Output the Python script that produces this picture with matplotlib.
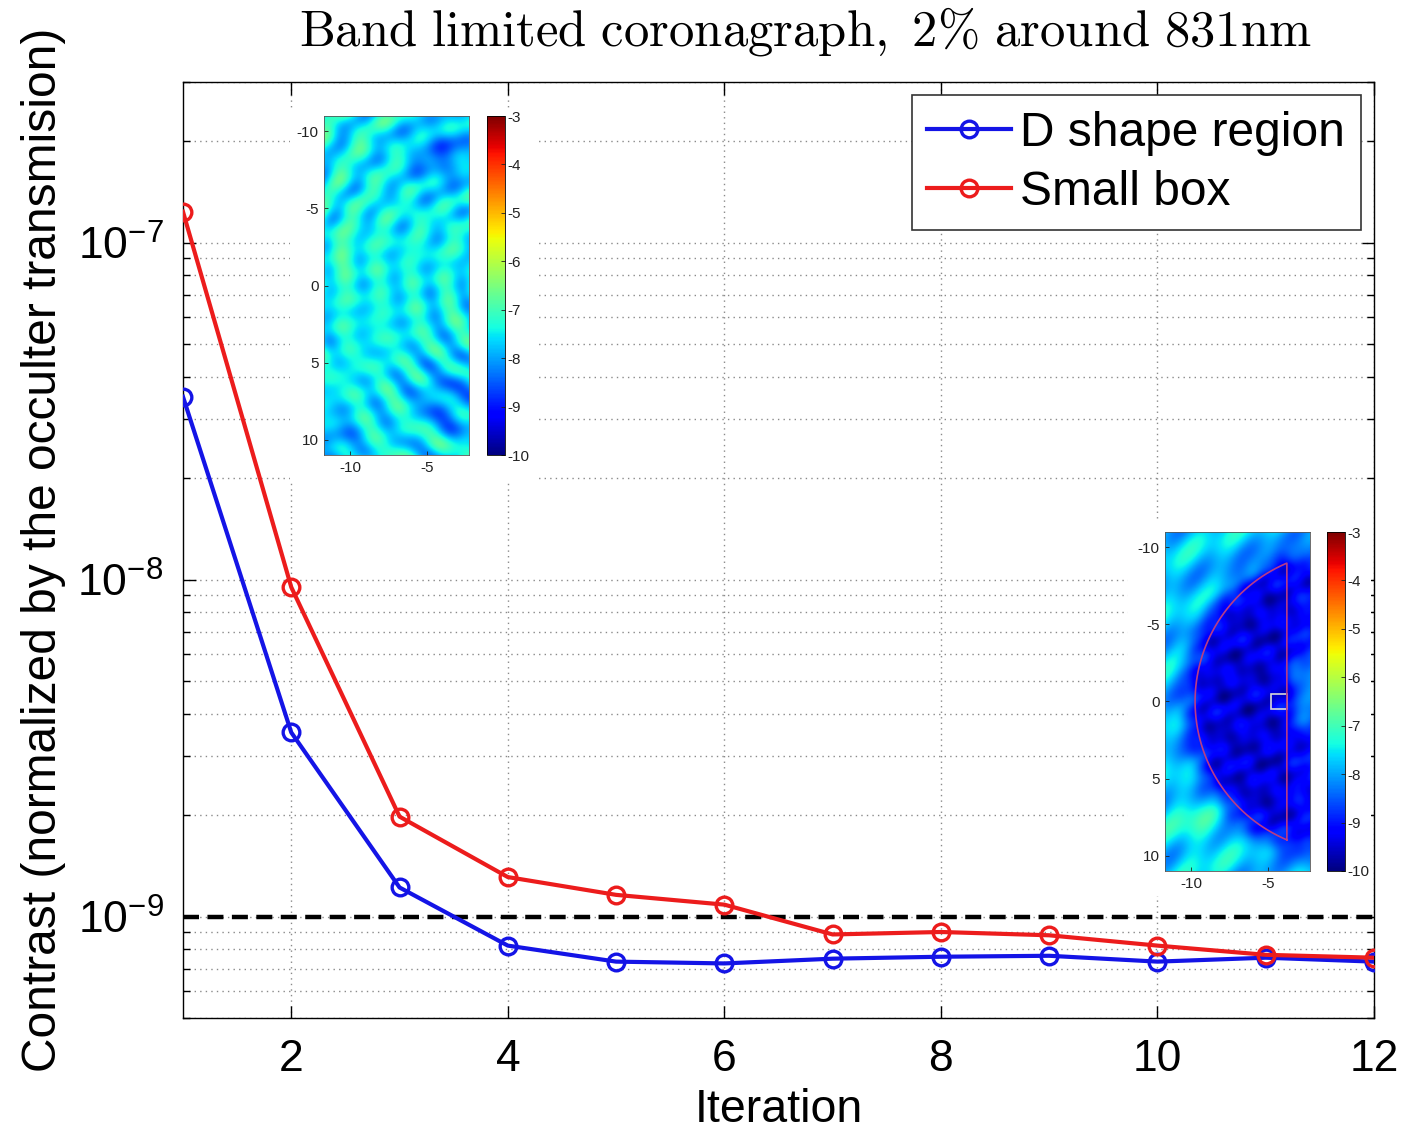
import numpy as np
import matplotlib
matplotlib.use("Agg")
import matplotlib.pyplot as plt
from matplotlib.patches import Rectangle
from matplotlib.ticker import LogLocator, NullFormatter, FixedLocator

plt.rcParams['font.family'] = ['Liberation Sans', 'DejaVu Sans']
plt.rcParams['mathtext.fontset'] = 'custom'
plt.rcParams['mathtext.rm'] = 'Liberation Sans'
plt.rcParams['mathtext.it'] = 'Liberation Sans:italic'
plt.rcParams['mathtext.bf'] = 'Liberation Sans:bold'
plt.rcParams['axes.unicode_minus'] = False

# ---- convergence data ----
iterations = list(range(1, 13))
d_shape_region = [3.49e-8, 3.52e-9, 1.22e-9, 8.2e-10, 7.35e-10, 7.26e-10,
                  7.5e-10, 7.6e-10, 7.65e-10, 7.35e-10, 7.55e-10, 7.35e-10]
small_box = [1.236e-7, 9.5e-9, 1.98e-9, 1.31e-9, 1.16e-9, 1.085e-9,
             8.85e-10, 9.0e-10, 8.8e-10, 8.2e-10, 7.7e-10, 7.55e-10]
target_contrast = 1e-9
x_ticks = [2, 4, 6, 8, 10, 12]
y_decades = [1e-9, 1e-8, 1e-7]
y_decade_labels = [r'$10^{-9}$', r'$10^{-8}$', r'$10^{-7}$']

# ---- focal-plane maps (log10 contrast, lambda/D units) ----
map_xlim = (-11.7, -2.3)
map_ylim = (-11.0, 11.0)
cbar_ticks = [-10, -9, -8, -7, -6, -5, -4, -3]
dark_hole_radius = 9.75
dark_hole_edge = -3.8
box_x = (-4.8, -3.8)
box_y = (-0.5, 0.5)

BLUE = '#1414e6'
RED = '#ec1c1c'

fig = plt.figure(figsize=(14.06, 11.39), dpi=100)
ax = fig.add_axes([183 / 1406, 1 - 1018 / 1139, (1374 - 183) / 1406, (1018 - 82) / 1139])

ax.semilogy(iterations, d_shape_region, '-o', color=BLUE, lw=3.0, ms=12,
            mfc='none', mew=2.4, label='D shape region', zorder=3)
ax.semilogy(iterations, small_box, '-o', color=RED, lw=3.0, ms=12,
            mfc='none', mew=2.4, label='Small box', zorder=4)
ax.axhline(target_contrast, color='k', lw=3.2, ls=(0, (3.6, 1.9)), zorder=2)

ax.set_xlim(1, 12)
ax.set_ylim(5.0e-10, 3.0e-7)
ax.set_xticks(x_ticks)
ax.yaxis.set_major_locator(FixedLocator(y_decades))
ax.set_yticklabels(y_decade_labels)
ax.yaxis.set_minor_locator(LogLocator(base=10, subs=np.arange(2, 10)))
ax.yaxis.set_minor_formatter(NullFormatter())

ax.grid(True, which='major', color='#8a8a8a', ls=(0, (1, 3)), lw=1.0)
ax.grid(True, which='minor', axis='y', color='#8a8a8a', ls=(0, (1, 3)), lw=1.0)
ax.tick_params(which='both', direction='in', top=True, right=True, width=1.0)
ax.tick_params(which='major', length=9, labelsize=32)
ax.tick_params(which='minor', length=5)
ax.tick_params(axis='x', pad=15)
ax.tick_params(axis='y', pad=14)
for s in ax.spines.values():
    s.set_linewidth(1.0)

ax.set_xlabel('Iteration', fontsize=33.5, labelpad=6)
ax.set_ylabel('Contrast (normalized by the occulter transmision)', fontsize=34.5, labelpad=8)

fig.text(805 / 1406, 1 - 45 / 1139,
         r'$\mathrm{Band\ limited\ coronagraph,\ 2\%\ around\ 831nm}$',
         math_fontfamily='cm', fontsize=36.5, ha='center', va='baseline')

leg = ax.legend(loc='upper right', bbox_to_anchor=(1, 1), borderaxespad=0.28,
                fontsize=34.5, fancybox=False, framealpha=1, edgecolor='#333333',
                handlelength=1.75, handletextpad=0.2, borderpad=0.32,
                labelspacing=0.3)
leg.get_frame().set_linewidth(1.2)


def sig(z):
    return 1.0 / (1.0 + np.exp(-z))


xs = np.linspace(map_xlim[0], map_xlim[1], 240)
ys = np.linspace(map_ylim[0], map_ylim[1], 560)
X, Y = np.meshgrid(xs, ys)

# speckle field after the first correction step: curved fringes plus clumps
R1 = np.hypot(X - 0.5, Y - 0.3)
T1 = np.arctan2(Y - 0.3, 0.5 - X)
ring = np.cos(2 * np.pi * R1 / 2.2 + 1.1 * np.sin(2.2 * T1) + 0.6 * np.cos(0.9 * Y))
blob = np.cos(2 * np.pi * (0.33 * X + 0.23 * Y)) * np.cos(2 * np.pi * (0.41 * Y - 0.17 * X))
blob2 = np.cos(2 * np.pi * (0.27 * X - 0.31 * Y) + 1.3) * np.cos(2 * np.pi * 0.19 * (X + Y))
field1 = (-7.45 + 0.55 * ring * (0.75 + 0.25 * np.cos(1.7 * T1 + 0.4 * X))
          + 0.22 * blob + 0.15 * blob2
          - 0.8 * np.exp(-((X + 4.0) ** 2 + (Y + 8.5) ** 2) / 5.0)
          - 0.7 * np.exp(-((X + 3.5) ** 2 + (Y - 7.5) ** 2) / 5.0)
          - 0.6 * np.exp(-((X + 11.0) ** 2 + (Y - 10.0) ** 2) / 3.0)
          + 0.3 * np.exp(-((X + 11.5) ** 2 + (Y + 2.0) ** 2) / 6.0))

# speckle field after convergence, with the dark hole
R2 = np.hypot(X, Y)
sx = sig((-3.5 - X) / 0.3)
right_strip = 0.8 - 0.65 * np.exp(-(Y + 0.8) ** 2 / 5.0)
mask = sig((10.3 - R2) / 0.45) * (sx + (1 - sx) * right_strip)
inside = (-9.45 + 0.22 * np.cos(2 * np.pi * (0.5 * X + 0.3 * Y))
          * np.cos(2 * np.pi * (0.45 * Y - 0.2 * X))
          + 0.18 * np.cos(2 * np.pi * (0.23 * X - 0.37 * Y) + 0.7)
          + 0.15 * np.cos(2 * np.pi * 0.29 * (X + 1.7 * Y)))
outside = (-7.75 + 0.35 * np.cos(2 * np.pi * (Y / 3.5 + 0.12 * X))
           + 0.25 * np.cos(2 * np.pi * (X / 2.5 + Y / 5.0))
           + 0.5 * np.exp(-((X + 9.5) ** 2 + (Y - 8.0) ** 2) / 4.0))
field2 = mask * inside + (1 - mask) * outside

# white backing behind each inset (hides the main grid)
fig.patches.append(Rectangle((290 / 1406, 1 - 480 / 1139), 245 / 1406, 372 / 1139,
                             transform=fig.transFigure, facecolor='white',
                             edgecolor='none', zorder=1))
fig.patches.append(Rectangle((1128 / 1406, 1 - 896 / 1139), 243 / 1406, 374 / 1139,
                             transform=fig.transFigure, facecolor='white',
                             edgecolor='none', zorder=1))


def draw_map(field, left_px, top_px, cbar_left_px):
    h = 339 / 1139
    bottom = 1 - (top_px + 339) / 1139
    iax = fig.add_axes([left_px / 1406, bottom, 145 / 1406, h], zorder=2)
    im = iax.imshow(field, extent=[map_xlim[0], map_xlim[1], map_ylim[0], map_ylim[1]],
                    origin='lower', cmap='jet', vmin=-10, vmax=-3, aspect='auto',
                    interpolation='bilinear')
    iax.set_xlim(*map_xlim)
    iax.set_ylim(map_ylim[1], map_ylim[0])
    iax.set_xticks([-10, -5])
    iax.set_yticks([-10, -5, 0, 5, 10])
    iax.tick_params(labelsize=11, direction='in', length=3, width=0.6, colors='#222222',
                    pad=4)
    for s in iax.spines.values():
        s.set_linewidth(0.6)
        s.set_color('#555555')
    cax = fig.add_axes([cbar_left_px / 1406, bottom, 18 / 1406, h], zorder=2)
    cb = fig.colorbar(im, cax=cax, ticks=cbar_ticks)
    cb.ax.tick_params(labelsize=11, direction='in', length=3, width=0.6,
                      colors='#222222', pad=2)
    cb.outline.set_linewidth(0.6)
    return iax


draw_map(field1, 324, 116, 487)
iax2 = draw_map(field2, 1165, 532, 1327)

t0 = np.arccos(dark_hole_edge / dark_hole_radius)
t = np.linspace(t0, 2 * np.pi - t0, 200)
arc_x = np.append(dark_hole_radius * np.cos(t), dark_hole_edge)
arc_y = np.append(dark_hole_radius * np.sin(t), dark_hole_radius * np.sin(t[0]))
iax2.plot(arc_x, arc_y, color='#b83c86', lw=1.2)
iax2.add_patch(Rectangle((box_x[0], box_y[0]), box_x[1] - box_x[0], box_y[1] - box_y[0],
                         fill=False, edgecolor='#d8d8d8', lw=1.2))

fig.savefig('out.png', dpi=100, facecolor='white')
